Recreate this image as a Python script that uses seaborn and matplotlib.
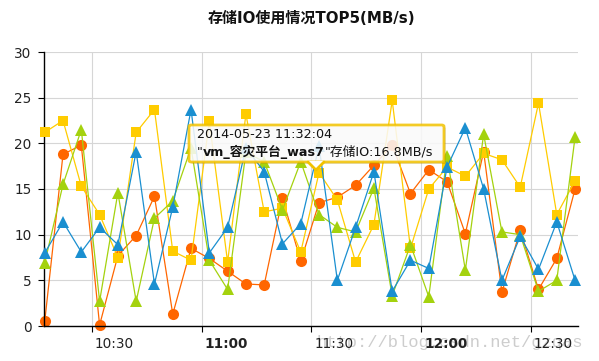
import matplotlib
matplotlib.use("Agg")
import matplotlib.pyplot as plt
import matplotlib.transforms as mtransforms
from matplotlib.patches import FancyBboxPatch, Polygon
from matplotlib.lines import Line2D
import pandas as pd
import seaborn as sns

# data (MB/s), one sample every 5 minutes
times = pd.date_range("2014-05-23 10:17:04", periods=30, freq="5min")
orange = [0.5, 18.8, 19.8, 0.1, 7.7, 9.9, 14.2, 1.3, 8.5, 7.4, 6.0, 4.6, 4.5, 14.0, 7.1,
          13.5, 14.1, 15.4, 17.6, 19.8, 14.5, 17.1, 15.8, 10.1, 19.1, 3.7, 10.5, 4.0, 7.4, 15.0]
yellow = [21.2, 22.5, 15.3, 12.2, 7.5, 21.2, 23.7, 8.2, 7.2, 22.4, 7.0, 23.2, 12.5, 12.9, 8.1,
          16.8, 13.8, 7.0, 11.1, 24.7, 8.5, 15.0, 17.4, 16.4, 18.9, 18.2, 15.2, 24.4, 12.2, 15.9]
green = [6.9, 15.5, 21.5, 2.7, 14.6, 2.7, 11.8, 13.7, 19.5, 7.2, 4.0, 19.0, 18.0, 12.7, 18.0,
         12.2, 10.8, 10.3, 15.1, 3.3, 8.9, 3.2, 18.6, 6.1, 21.0, 10.3, 10.0, 3.8, 5.0, 20.7]
blue = [8.0, 11.4, 8.1, 10.8, 8.9, 19.1, 4.6, 13.0, 23.7, 8.0, 10.8, 19.5, 16.9, 9.0, 11.2,
        19.7, 5.0, 10.8, 16.9, 3.8, 7.2, 6.3, 17.4, 21.7, 15.0, 5.0, 9.8, 6.2, 11.4, 5.0]

tick_times = pd.to_datetime(["2014-05-23 10:30", "2014-05-23 11:00", "2014-05-23 11:30",
                             "2014-05-23 12:00", "2014-05-23 12:30"])
tick_labels = ["10:30", "11:00", "11:30", "12:00", "12:30"]
bold_labels = ["11:00", "12:00"]

title = "存储IO使用情况TOP5(MB/s)"
tip_time = "2014-05-23 11:32:04"
tip_name = "vm_容灾平台_was7"
tip_value = "存储IO:16.8MB/s"

sns.set_style("whitegrid")
plt.rcParams["font.family"] = ["DejaVu Sans", "Noto Sans CJK SC"]

W, H = 599, 361
fig = plt.figure(figsize=(W / 100, H / 100), dpi=100)
ax = fig.add_axes([44 / W, 1 - 326 / H, (578 - 44) / W, (326 - 52) / H])


def fx(x, y):
    return x / W, 1 - y / H


series = [
    (orange, "#ff6600", "o", 8.0, 2),
    (yellow, "#ffcc00", "s", 7.5, 3),
    (green, "#a4d20e", "^", 8.5, 4),
    (blue, "#1a8fd0", "^", 8.5, 5),
]
for vals, col, mk, ms, z in series:
    sns.lineplot(x=times, y=vals, ax=ax, color=col, marker=mk, markersize=ms,
                 markeredgewidth=0, linewidth=0.9, zorder=z, clip_on=False)

ax.set_ylim(0, 30)
ax.set_yticks(range(0, 31, 5))
ax.set_xlim(pd.Timestamp("2014-05-23 10:16:52"), pd.Timestamp("2014-05-23 12:42:52"))
ax.set_xticks(tick_times)
ax.set_xticklabels(tick_labels)
ax.set_xlabel("")
ax.set_ylabel("")

ax.grid(True, color="#d6d6d6", linewidth=0.8)
for s in ["top", "right"]:
    ax.spines[s].set_visible(False)
for s in ["left", "bottom"]:
    ax.spines[s].set_visible(True)
    ax.spines[s].set_color("black")
    ax.spines[s].set_linewidth(1.0)

ax.tick_params(axis="y", left=True, length=4.5, width=0.8, color="black", pad=4.5,
               labelsize=9.8, labelcolor="#222222")
ax.tick_params(axis="x", bottom=True, length=4.5, width=0.8, color="black", pad=3.5,
               labelsize=9.8, labelcolor="#222222")
shift = mtransforms.ScaledTranslation(0.03, 0, fig.dpi_scale_trans)
for lab in ax.get_xticklabels():
    lab.set_horizontalalignment("left")
    lab.set_transform(lab.get_transform() + shift)
    if lab.get_text() in bold_labels:
        lab.set_fontweight("bold")

fig.text(*fx(311, 18), title, ha="center", va="center", fontsize=10.8, fontweight="bold",
         color="#111111")

# watermark, drawn beneath the axes and its tick labels
fig.text(*fx(317, 343), "http://blog.csdn.net/gzqas", ha="left", va="center",
         family="Liberation Mono", fontsize=12.3, color="#cdcdcd", zorder=-1)

# tooltip
gold = "#f2c200"
shadow = FancyBboxPatch(fx(191, 164), 255 / W, 37 / H, boxstyle="round,pad=0,rounding_size=0.004",
                        transform=fig.transFigure, facecolor="#000000", alpha=0.12,
                        edgecolor="none", zorder=9)
fig.patches.append(shadow)
box = FancyBboxPatch(fx(189, 162), 255 / W, 37 / H, boxstyle="round,pad=0,rounding_size=0.004",
                     transform=fig.transFigure, facecolor="white", alpha=0.85,
                     edgecolor=gold, linewidth=2.0, zorder=10)
fig.patches.append(box)
fig.patches.append(Polygon([fx(308, 161), fx(316, 170), fx(324, 161)], closed=True,
                           transform=fig.transFigure, facecolor="white", edgecolor="none",
                           zorder=11))
fig.lines.append(Line2D([308 / W, 316 / W, 324 / W], [1 - 162 / H, 1 - 170 / H, 1 - 162 / H],
                        transform=fig.transFigure, color=gold, linewidth=2.0, zorder=12))

fig.text(*fx(197, 134), tip_time, ha="left", va="center", fontsize=9.2, color="#111111", zorder=13)
renderer = fig.canvas.get_renderer()
x = 197
for txt, wt in [('"', "normal"), (tip_name, "bold"), ('"' + tip_value, "normal")]:
    t = fig.text(x / W, 1 - 152 / H, txt, ha="left", va="center", fontsize=9.2,
                 fontweight=wt, color="#111111", zorder=13)
    x = t.get_window_extent(renderer).x1

fig.savefig("out.png", dpi=100)
